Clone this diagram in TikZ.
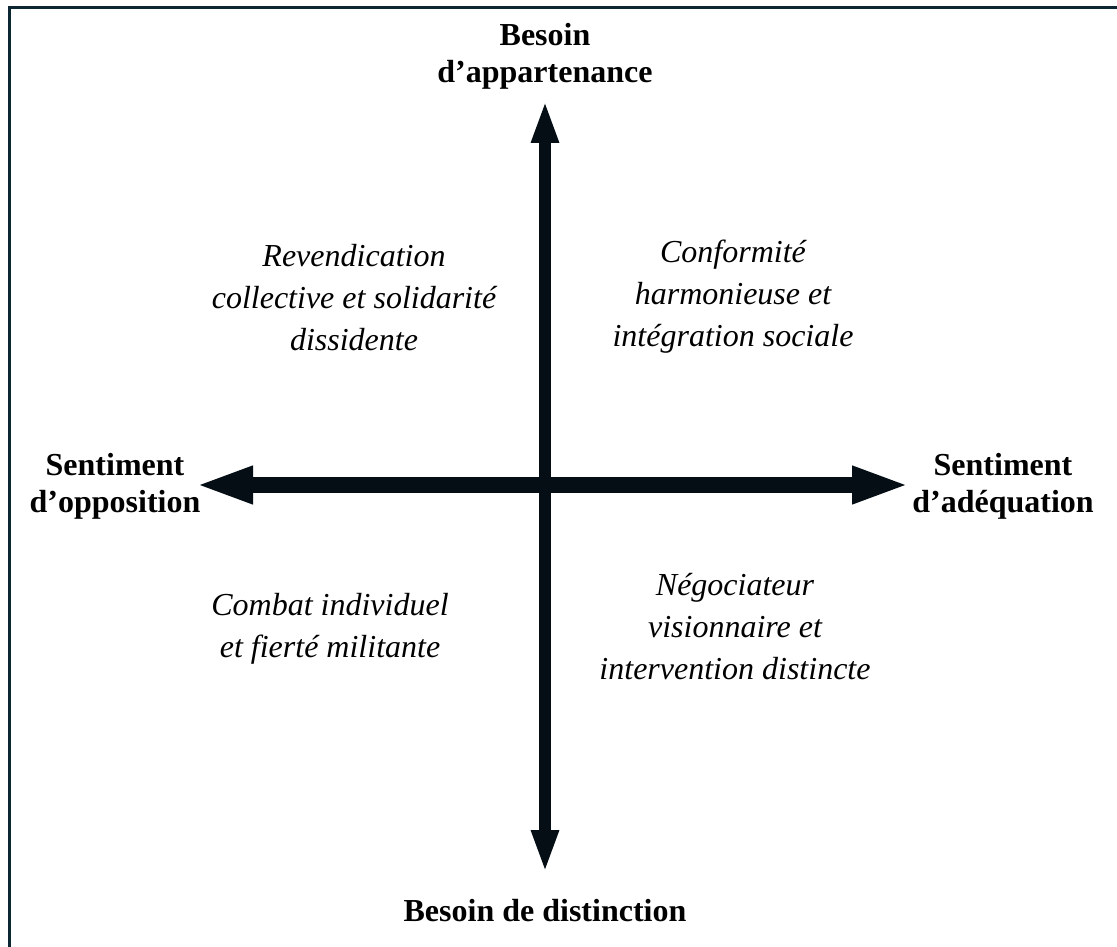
\documentclass[tikz,border=0pt]{standalone}
\usepackage{fontspec}
\setmainfont{Liberation Serif}
\usetikzlibrary{arrows.meta}
\definecolor{frame}{RGB}{12,38,52}
\definecolor{axis}{RGB}{4,14,20}
\tikzset{
  axislbl/.style={font=\fontsize{32}{37}\selectfont\bfseries, align=center, inner sep=0pt},
  quadlbl/.style={font=\fontsize{32}{42}\selectfont\itshape, align=center, inner sep=0pt},
  vaxis/.style={draw=axis, line width=12pt, {Triangle[length=43pt,width=25pt]}-{Triangle[length=43pt,width=25pt]}},
  haxis/.style={draw=axis, line width=16pt, {Triangle[length=58pt,width=34pt]}-{Triangle[length=58pt,width=34pt]}},
}
\begin{document}
\begin{tikzpicture}[x=1pt,y=-1pt]
\useasboundingbox (0,0) rectangle (1117,947);
\fill[white] (0,0) rectangle (1117,947);
\draw[frame, line width=3.5pt] (9.5,947) -- (9.5,7.5) -- (1117,7.5);
% axes
\coordinate (top) at (545,100);
\coordinate (bottom) at (545,873);
\coordinate (left) at (195,485);
\coordinate (right) at (910,485);
\draw[vaxis] (bottom) -- (top);
\draw[haxis] (left) -- (right);
% axis labels
\node[axislbl] (nord) at (545,56) {Besoin\\d’appartenance};
\node[axislbl] (sud) at (545,911) {Besoin de distinction};
\node[axislbl] (ouest) at (115,486) {Sentiment\\d’opposition};
\node[axislbl] (est) at (1003,486) {Sentiment\\d’adéquation};
% quadrant labels
\node[quadlbl] (q1) at (354,298) {Revendication\\collective et solidarité\\dissidente};
\node[quadlbl] (q2) at (733,297) {Conformité\\harmonieuse et\\intégration sociale};
\node[quadlbl] (q3) at (330,629) {Combat individuel\\et fierté militante};
\node[quadlbl] (q4) at (735,627) {Négociateur\\visionnaire et\\intervention distincte};
\end{tikzpicture}
\end{document}
